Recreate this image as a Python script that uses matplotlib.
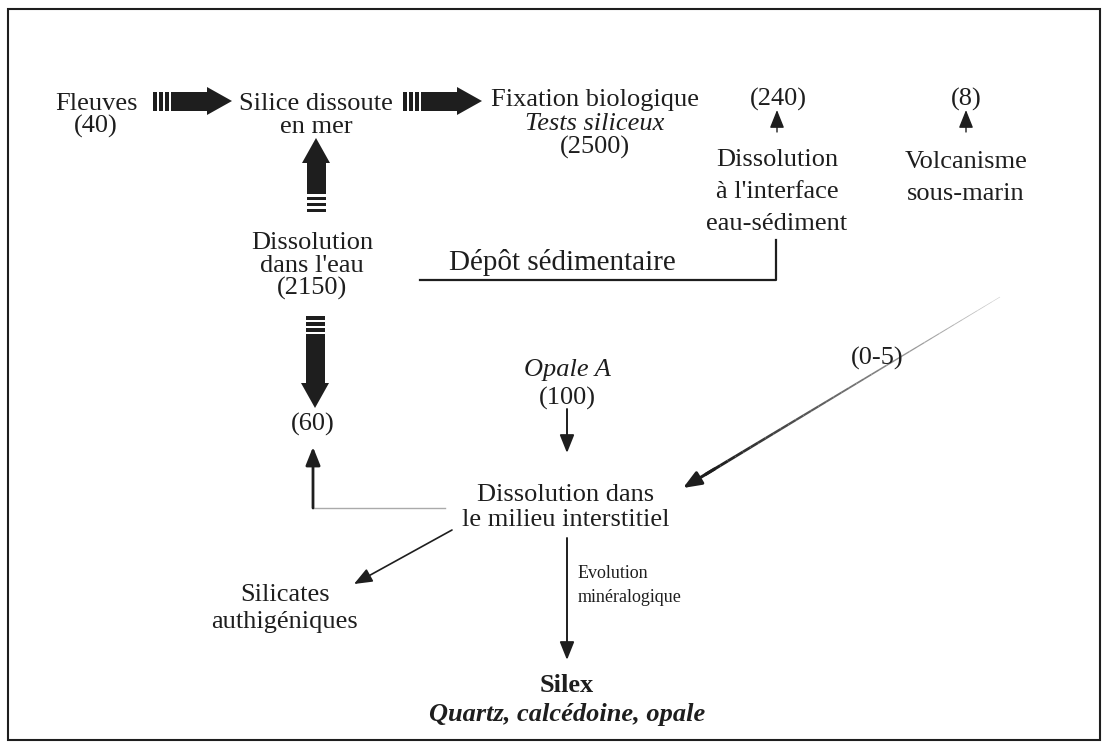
import numpy as np
import matplotlib
matplotlib.use("Agg")
import matplotlib.pyplot as plt
from matplotlib.patches import Polygon, Rectangle
from matplotlib.collections import LineCollection

plt.rcParams['font.family'] = ['Liberation Serif', 'DejaVu Serif']

# --- textes du schéma (cycle de la silice) ---
fleuves_txt = ["Fleuves", "(40)"]
silice_txt = ["Silice dissoute", "en mer"]
fixation_txt = ["Fixation biologique", "Tests siliceux", "(2500)"]
interface_txt = ["Dissolution", "à l'interface", "eau-sédiment"]
volcan_txt = ["Volcanisme", "sous-marin"]
eau_txt = ["Dissolution", "dans l'eau", "(2150)"]
opale_txt = ["Opale A", "(100)"]
interst_txt = ["Dissolution dans", "le milieu interstitiel"]
silicates_txt = ["Silicates", "authigéniques"]
silex_txt = ["Silex", "Quartz, calcédoine, opale"]
evol_txt = ["Evolution", "minéralogique"]
flux_240, flux_8, flux_60, flux_05 = "(240)", "(8)", "(60)", "(0-5)"
depot_txt = "Dépôt sédimentaire"

C = '#1e1e1e'
FS = 19

fig = plt.figure(figsize=(11.09, 7.47), dpi=100)
ax = fig.add_axes([0, 0, 1, 1])
ax.set_xlim(0, 1109)
ax.set_ylim(747, 0)
ax.axis('off')

ax.add_patch(Rectangle((8, 9), 1092, 731, fill=False, lw=1.5, ec=C))


def bloc(txts, x, y0, dy=30, styles=None, size=FS, ha='center'):
    for i, t in enumerate(txts):
        st = styles[i] if styles else 'n'
        ax.text(x, y0 + i * dy, t, ha=ha, va='baseline', fontsize=size, color=C,
                style='italic' if 'i' in st else 'normal',
                weight='bold' if 'b' in st else 'normal')


bloc(fleuves_txt, 96, 110, 23)
bloc(silice_txt, 316, 110, 23)
bloc(fixation_txt, 595, 106, 24, styles=['n', 'i', 'n'])
bloc([flux_240], 778, 106)
bloc([flux_8], 966, 106)
bloc(interface_txt, 777, 166, 32)
bloc(volcan_txt, 966, 168, 32)
bloc(eau_txt, 312, 249, 23)
bloc([depot_txt], 562, 270, size=21)
bloc(opale_txt, 567, 376, 29, styles=['i', 'n'])
bloc([flux_60], 313, 431)
bloc(interst_txt, 566, 501, 25)
bloc(silicates_txt, 285, 601, 27)
bloc(silex_txt, 567, 692, 29, styles=['b', 'bi'])
bloc(evol_txt, 578, 578, 24, size=13, ha='left')
ax.text(877, 365, flux_05, ha='center', va='baseline', fontsize=FS, color=C)


def grosse_fleche(x0, y0, x1, y1, body=19, head=28, head_len=25, stripe=3.5, gap=2.5):
    p0 = np.array([x0, y0], float)
    v = np.array([x1 - x0, y1 - y0], float)
    L = np.hypot(*v)
    u = v / L
    n = np.array([-u[1], u[0]])

    def quad(a, b, w):
        return [p0 + u * a + n * w / 2, p0 + u * b + n * w / 2,
                p0 + u * b - n * w / 2, p0 + u * a - n * w / 2]
    s = 0
    for _ in range(3):
        ax.add_patch(Polygon(quad(s, s + stripe, body), closed=True, fc=C, ec='none'))
        s += stripe + gap
    ax.add_patch(Polygon(quad(s, L - head_len, body), closed=True, fc=C, ec='none'))
    tri = [p0 + u * (L - head_len) + n * head / 2, p0 + u * L,
           p0 + u * (L - head_len) - n * head / 2]
    ax.add_patch(Polygon(tri, closed=True, fc=C, ec='none'))


grosse_fleche(153, 101, 232, 101)
grosse_fleche(403, 101, 482, 101)
grosse_fleche(316, 212, 316, 138)
grosse_fleche(315, 316, 315, 408)

AST = '-|>,head_length=0.55,head_width=0.22'


def fleche(x0, y0, x1, y1, lw=1.4, color=C):
    ax.annotate('', xy=(x1, y1), xytext=(x0, y0),
                arrowprops=dict(arrowstyle=AST, mutation_scale=20, lw=lw, color=color,
                                shrinkA=0, shrinkB=0))


fleche(777, 132, 777, 110, lw=1.0)
fleche(966, 132, 966, 110, lw=1.0)
fleche(567, 409, 567, 453)
fleche(567, 538, 567, 660)
fleche(452, 530, 354, 584, lw=1.2)

# dépôt sédimentaire
ax.plot([420, 776, 776], [280, 280, 240], color=C, lw=1.6)

# retour vers (60)
ax.plot([313, 445], [508, 508], color='#aaaaaa', lw=1.0)
fleche(313, 508, 313, 447, lw=2.0)

# volcanisme -> milieu interstitiel (trait qui s'épaissit)
xa, ya, xb, yb = 1000, 297, 683, 488
t = np.linspace(0, 0.93, 40)
px = xa + (xb - xa) * t
py = ya + (yb - ya) * t
segs = [[(px[i], py[i]), (px[i + 1], py[i + 1])] for i in range(len(t) - 1)]
grey = np.linspace(0.8, 0.1, len(segs))
lc = LineCollection(segs, colors=[(g, g, g) for g in grey],
                    linewidths=np.linspace(0.4, 2.2, len(segs)))
ax.add_collection(lc)
fleche(xa + (xb - xa) * 0.9, ya + (yb - ya) * 0.9, xb, yb, lw=2.2)

fig.savefig("out.png", dpi=100)
